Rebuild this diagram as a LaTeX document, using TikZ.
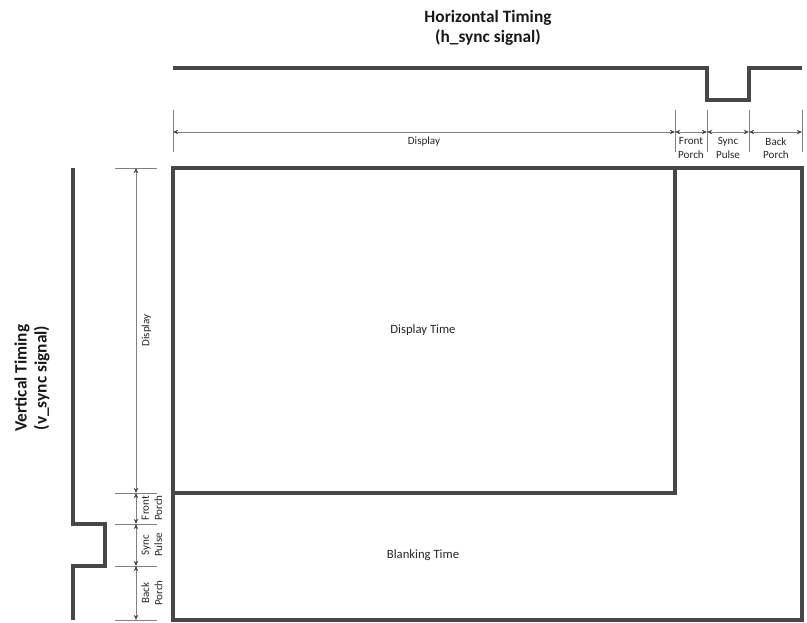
\documentclass[tikz,border=0pt]{standalone}
\usepackage{fontspec}
\setmainfont{Carlito}
\usetikzlibrary{arrows.meta}

\tikzset{
  signal/.style={draw=black!72, line width=2.3pt, line join=miter},
  frame/.style={draw=black!72, line width=2.3pt},
  tickline/.style={draw=black!50, line width=0.6pt},
  dimline/.style={draw=black!50, line width=0.6pt,
    {Stealth[length=4pt,width=3.5pt,black!70]}-{Stealth[length=4pt,width=3.5pt,black!70]}},
  lbl/.style={font=\fontsize{8.3}{10}\selectfont, align=center, text=black!85, inner sep=1pt},
  ttl/.style={font=\bfseries\fontsize{13}{15}\selectfont, align=center, text=black!90}
}

\begin{document}
\begin{tikzpicture}[x=0.75pt, y=-0.75pt]
  \useasboundingbox (0,0) rectangle (807,622);

  % horizontal timing
  \node[ttl] (htitle) at (488,28) {Horizontal Timing\\(h\_sync signal)};
  \coordinate (hs0) at (173,68);
  \coordinate (hs1) at (707,68);
  \coordinate (hs2) at (749,68);
  \coordinate (hs3) at (802,68);
  \draw[signal] (hs0) -- (hs1) -- ++(0,32) -| (hs2) -- (hs3);

  \foreach \n/\x in {a/173, b/675, c/707, d/749, e/802} {
    \draw[tickline] (\x,110) -- (\x,152);
    \coordinate (h\n) at (\x,132);
  }
  \draw[dimline] (ha) -- node[lbl, below=2pt] (hdisp) {Display} (hb);
  \draw[dimline] (hb) -- (hc);
  \draw[dimline] (hc) -- (hd);
  \draw[dimline] (hd) -- (he);
  \node[lbl] (hfp) at (691,148) {Front\\Porch};
  \node[lbl] (hsp) at (728,148) {Sync\\Pulse};
  \node[lbl] (hbp) at (776,148) {Back\\Porch};

  % vertical timing
  \node[ttl, rotate=90] (vtitle) at (32,378) {Vertical Timing\\(v\_sync signal)};
  \coordinate (vs0) at (73,168);
  \coordinate (vs1) at (73,524);
  \coordinate (vs2) at (73,566);
  \coordinate (vs3) at (73,620);
  \draw[signal] (vs0) -- (vs1) -- ++(32,0) |- (vs2) -- (vs3);

  \foreach \n/\y in {a/168, b/493, c/524, d/566, e/620} {
    \draw[tickline] (115,\y) -- (157,\y);
    \coordinate (v\n) at (136,\y);
  }
  \draw[dimline] (va) -- node[lbl, rotate=90, below=3pt] (vdisp) {Display} (vb);
  \draw[dimline] (vb) -- (vc);
  \draw[dimline] (vc) -- (vd);
  \draw[dimline] (vd) -- (ve);
  \node[lbl, rotate=90] (vfp) at (152,508) {Front\\Porch};
  \node[lbl, rotate=90] (vsp) at (152,545) {Sync\\Pulse};
  \node[lbl, rotate=90] (vbp) at (152,593) {Back\\Porch};

  % screen areas
  \draw[frame] (173,168) rectangle (802,620);
  \draw[frame] (173,493) -| (675,168);
  \node[lbl, font=\fontsize{9.5}{11}\selectfont] (disptime) at (423,330) {Display Time};
  \node[lbl, font=\fontsize{9.5}{11}\selectfont] (blanktime) at (423,555) {Blanking Time};
\end{tikzpicture}
\end{document}
